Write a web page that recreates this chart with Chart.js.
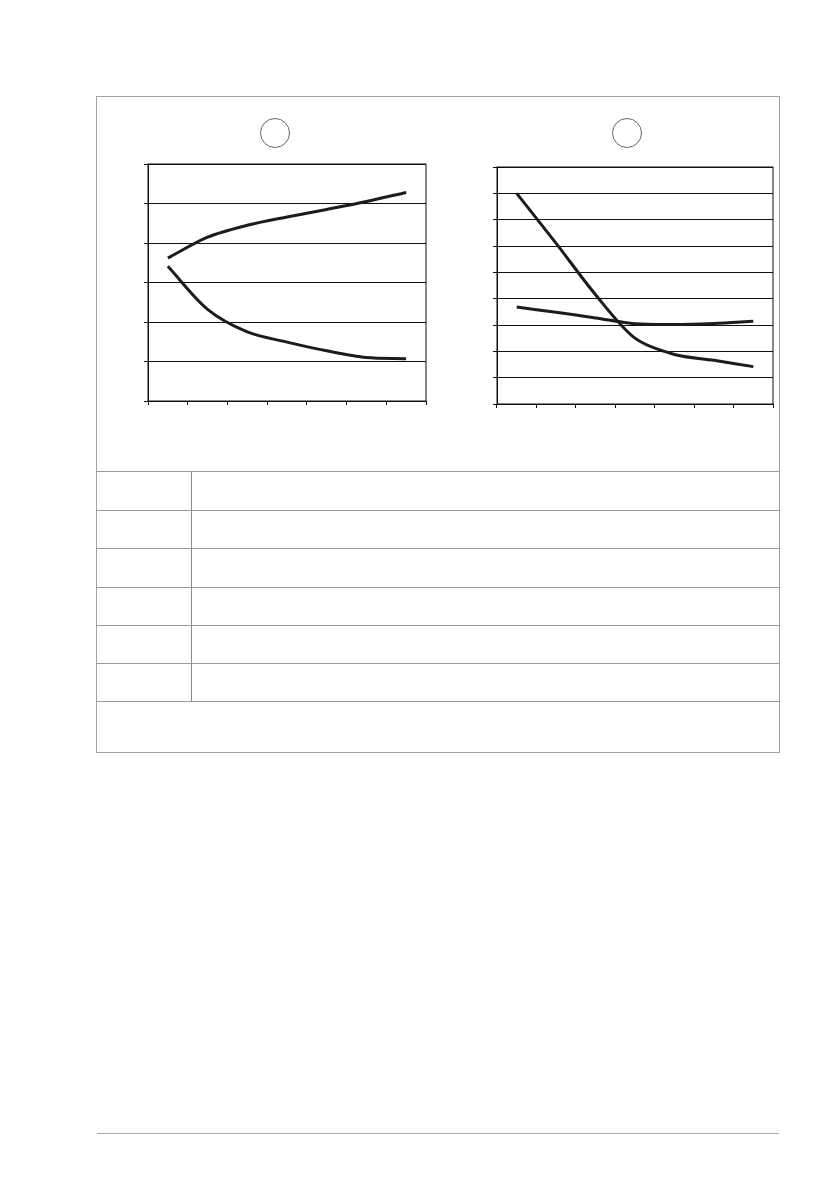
<!DOCTYPE html>
<html>
<head>
<meta charset="utf-8">
<script src="https://cdn.jsdelivr.net/npm/chart.js@4.4.1/dist/chart.umd.min.js"></script>
<style>
    html, body { margin: 0; padding: 0; background: #fff; }
    body { width: 839px; height: 1191px; position: relative; overflow: hidden; font-family: "DejaVu Sans", sans-serif; }
    .frame { position: absolute; left: 96px; top: 96px; width: 682px; height: 655px; border: 1.5px solid #a3a3a3; box-sizing: content-box; }
    .circle { position: absolute; width: 28px; height: 28px; border: 1px solid #666; border-radius: 50%; }
    .chart-box { position: absolute; }
    .hline { position: absolute; left: 96px; width: 684px; height: 0; border-top: 1.5px solid #9a9a9a; }
    .vline { position: absolute; left: 191px; top: 471px; width: 0; height: 231px; border-left: 1.5px solid #8a8a8a; }
    .footer { position: absolute; left: 97px; top: 1133px; width: 682px; height: 0; border-top: 1px solid #aaa; }
</style>
</head>
<body>
<div class="frame"></div>
<div class="circle" style="left:260px; top:118px;"></div>
<div class="circle" style="left:612px; top:118px;"></div>

<div class="chart-box" style="left:142px; top:162px; width:286px; height:245px;">
    <canvas id="chart-left"></canvas>
</div>
<div class="chart-box" style="left:491px; top:165px; width:284px; height:245px;">
    <canvas id="chart-right"></canvas>
</div>

<div class="hline" style="top:471px;"></div>
<div class="hline" style="top:510px;"></div>
<div class="hline" style="top:548px;"></div>
<div class="hline" style="top:587px;"></div>
<div class="hline" style="top:625px;"></div>
<div class="hline" style="top:663px;"></div>
<div class="hline" style="top:701px;"></div>
<div class="vline"></div>
<div class="footer"></div>

<script>
const categories = ["1", "2", "3", "4", "5", "6", "7"];

// left panel, y 0..6
const leftUpper = [3.62, 4.15, 4.45, 4.66, 4.85, 5.05, 5.28];
const leftLower = [3.41, 2.32, 1.75, 1.49, 1.27, 1.10, 1.07];

// right panel, y 0..9
const rightSteep = [8.0, 6.1, 4.15, 2.5, 1.88, 1.66, 1.42];
const rightFlat = [3.68, 3.48, 3.27, 3.05, 3.02, 3.06, 3.14];

// draws the box round the plot area
const boxPlugin = {
    id: 'boxPlugin',
    afterDraw(chart) {
        const a = chart.chartArea;
        const ctx = chart.ctx;
        ctx.save();
        ctx.strokeStyle = '#111';
        ctx.lineWidth = 1;
        ctx.strokeRect(a.left, a.top, a.right - a.left, a.bottom - a.top);
        ctx.restore();
    }
};

function makeChart(canvasId, seriesA, seriesB, yMax) {
    const lineStyle = {
        borderColor: '#1c1c1c',
        backgroundColor: 'transparent',
        borderWidth: 3,
        pointRadius: 0,
        tension: 0.3,
        fill: false
    };
    return new Chart(document.getElementById(canvasId), {
        type: 'line',
        data: {
            labels: categories,
            datasets: [
                Object.assign({ label: 'A', data: seriesA }, lineStyle),
                Object.assign({ label: 'B', data: seriesB }, lineStyle)
            ]
        },
        options: {
            responsive: true,
            maintainAspectRatio: false,
            animation: false,
            layout: { padding: 2 },
            plugins: {
                legend: { display: false },
                tooltip: { enabled: false }
            },
            scales: {
                x: {
                    offset: true,
                    grid: {
                        offset: true,
                        drawOnChartArea: false,
                        drawTicks: true,
                        tickLength: 4,
                        color: '#111'
                    },
                    border: { color: '#111', width: 1 },
                    ticks: { display: false }
                },
                y: {
                    min: 0,
                    max: yMax,
                    ticks: { display: false, stepSize: 1 },
                    grid: {
                        color: '#111',
                        lineWidth: 1,
                        drawTicks: true,
                        tickLength: 4
                    },
                    border: { color: '#111', width: 1 }
                }
            }
        },
        plugins: [boxPlugin]
    });
}

makeChart('chart-left', leftUpper, leftLower, 6);
makeChart('chart-right', rightSteep, rightFlat, 9);
</script>
</body>
</html>
